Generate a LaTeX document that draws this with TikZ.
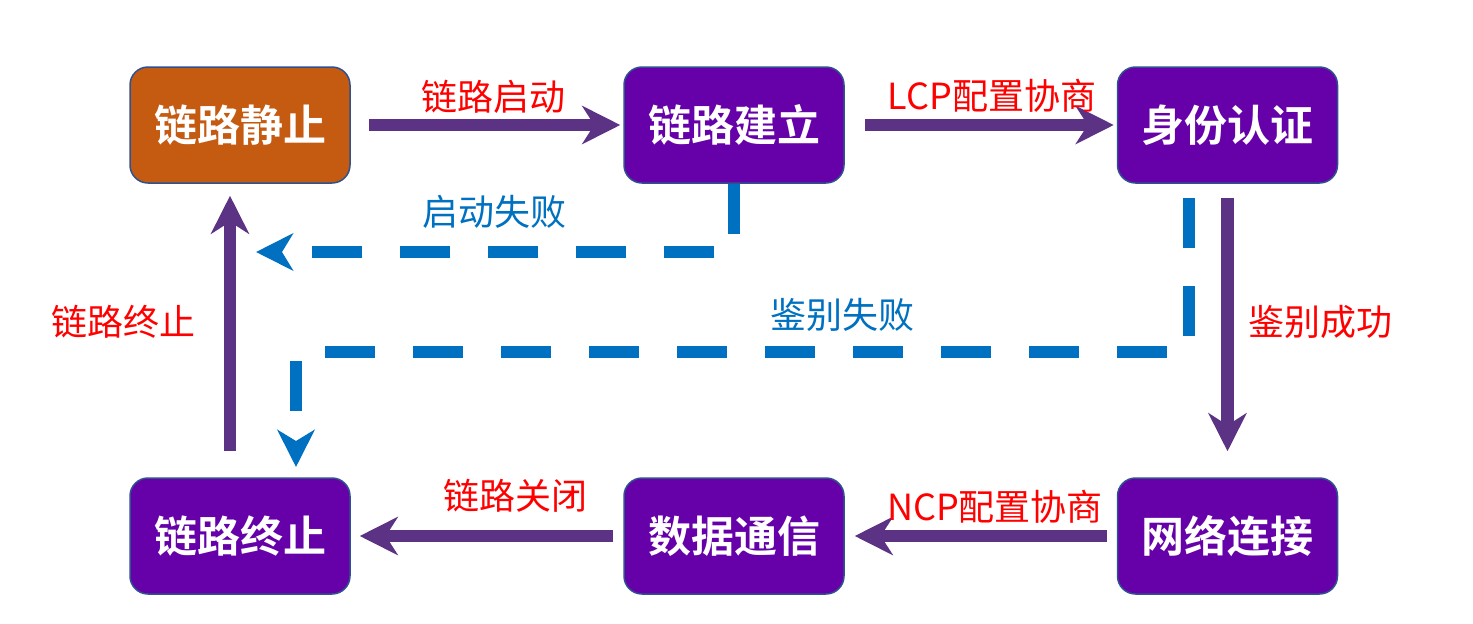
\documentclass[tikz,border=0pt]{standalone}
\usepackage{fontspec}
\newfontfamily\cjk{Noto Sans CJK SC}
\newfontfamily\cjkb{Noto Sans CJK SC Bold}
\usetikzlibrary{arrows.meta}
\definecolor{boxpurple}{HTML}{6600A8}
\definecolor{boxorange}{HTML}{C55A11}
\definecolor{boxedge}{HTML}{2F528F}
\definecolor{arrowpurple}{HTML}{5C3285}
\definecolor{dashblue}{HTML}{0070C0}
\definecolor{labred}{HTML}{FF0000}
\begin{document}
\begin{tikzpicture}[x=0.5pt,y=-0.5pt,
  box/.style={draw=boxedge, line width=0.75pt, rounded corners=9pt,
    minimum width=110pt, minimum height=58pt, fill=boxpurple, text=white,
    font=\cjkb\fontsize{21.5pt}{24pt}\selectfont, inner sep=0pt},
  parrow/.style={draw=arrowpurple, line width=6.25pt,
    -{Stealth[length=19pt,width=19pt,inset=6pt]}},
  barrow/.style={draw=dashblue, line width=6pt, dash pattern=on 25pt off 19pt,
    -{Stealth[length=18.5pt,width=18.5pt,inset=5.5pt]}},
  rlab/.style={text=labred, font=\cjk\fontsize{18pt}{20pt}\selectfont, inner sep=0pt},
  blab/.style={text=dashblue, font=\cjk\fontsize{18pt}{20pt}\selectfont, inner sep=0pt}]
\useasboundingbox (0,0) rectangle (1473,623);
% boxes
\node[box, fill=boxorange] (a) at (240,125) {链路静止};
\node[box] (b) at (734,125) {链路建立};
\node[box] (c) at (1227.5,125) {身份认证};
\node[box] (d) at (240,536) {链路终止};
\node[box] (e) at (734,536) {数据通信};
\node[box] (f) at (1227.5,536) {网络连接};
% solid arrows
\draw[parrow] ([xshift=9pt]a.east) -- ([xshift=-1.5pt]b.west);
\draw[parrow] ([xshift=10pt]b.east) -- ([xshift=-1.5pt]c.west);
\draw[parrow] ([yshift=-7pt]c.south) -- ([yshift=13pt]f.north);
\draw[parrow] ([xshift=-5pt]f.west) -- ([xshift=5pt]e.east);
\draw[parrow] ([xshift=-5pt]e.west) -- ([xshift=4.5pt]d.east);
\draw[parrow] ([xshift=-5pt,yshift=13pt]d.north) -- ([xshift=-5pt,yshift=-6pt]a.south);
% dashed arrows
\coordinate (t1) at (256,252);
\draw[barrow] (b.south) -- (b.south |- t1) -- (t1);
\coordinate (s2) at (1189,198);
\coordinate (t2) at (296,467);
\draw[barrow] (s2) -- (1189,352) -- (296,352) -- (t2);
% labels
\node[rlab] (l1) at (493,97) {链路启动};
\node[rlab] (l2) at (992,96) {LCP配置协商};
\node[rlab] (l3) at (1320,322) {鉴别成功};
\node[rlab] (l4) at (995,507) {NCP配置协商};
\node[rlab] (l5) at (515,496) {链路关闭};
\node[rlab] (l6) at (123,322) {链路终止};
\node[blab] (l7) at (494,212) {启动失败};
\node[blab] (l8) at (842,315) {鉴别失败};
\end{tikzpicture}
\end{document}
